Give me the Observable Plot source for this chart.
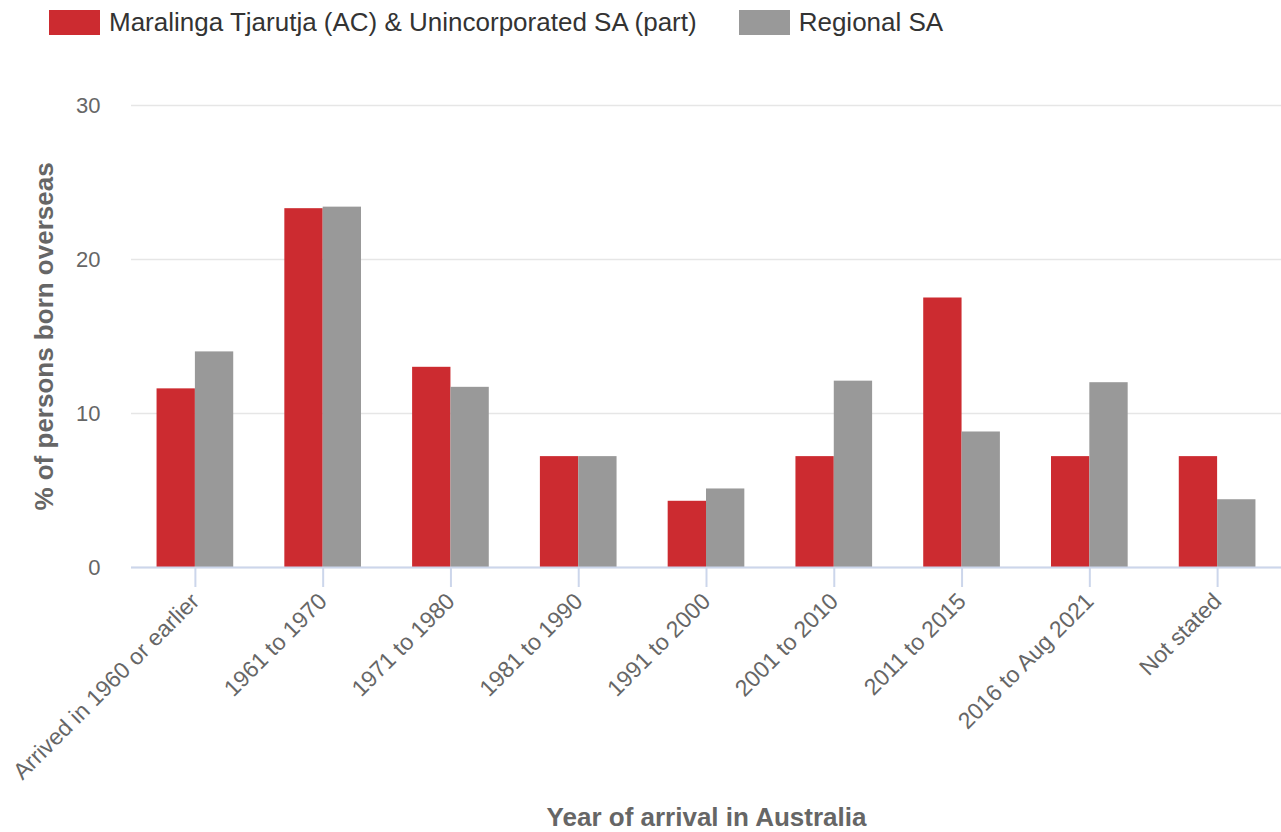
<!DOCTYPE html>
<html>
<head>
<meta charset="utf-8">
<script src="https://cdn.jsdelivr.net/npm/d3@7"></script>
<script src="https://cdn.jsdelivr.net/npm/@observablehq/plot@0.6"></script>
<style>
  html, body { margin: 0; padding: 0; background: #fff; }
  body { font-family: "Liberation Sans", Arial, sans-serif; width: 1281px; }
  #legend { height: 50px; position: relative; display: flex; align-items: flex-start; padding-left: 49px; padding-top: 10px; box-sizing: border-box; }
  .item { display: flex; align-items: center; margin-right: 42px; font-size: 26px; line-height: 25px; color: #333; }
  .sw { width: 51px; height: 25px; margin-right: 9px; }
  svg { display: block; }
</style>
</head>
<body>
<div id="legend"></div>
<div id="chart"></div>
<script>
const categories = ["Arrived in 1960 or earlier","1961 to 1970","1971 to 1980","1981 to 1990","1991 to 2000","2001 to 2010","2011 to 2015","2016 to Aug 2021","Not stated"];
const maralinga = [11.6, 23.3, 13.0, 7.2, 4.3, 7.2, 17.5, 7.2, 7.2];
const regional = [14.0, 23.4, 11.7, 7.2, 5.1, 12.1, 8.8, 12.0, 4.4];
const seriesNames = ["Maralinga Tjarutja (AC) & Unincorporated SA (part)", "Regional SA"];
const seriesColors = ["#cc2b30", "#999999"];
const yTicks = [0, 10, 20, 30];
const xTitle = "Year of arrival in Australia";
const yTitle = "% of persons born overseas";

const legend = document.getElementById("legend");
seriesNames.forEach((n, i) => {
  const it = document.createElement("div");
  it.className = "item";
  it.innerHTML = `<div class="sw" style="background:${seriesColors[i]}"></div><span>${n}</span>`;
  legend.appendChild(it);
});

const dataA = categories.map((c, i) => ({cat: c, value: maralinga[i]}));
const dataB = categories.map((c, i) => ({cat: c, value: regional[i]}));

const W = 1281, H = 782;
const mL = 131, mR = 0, mT = 55, mB = 265;
const half = (W - mL - mR) / categories.length * 0.6 / 2;

const plot = Plot.plot({
  width: W, height: H,
  marginLeft: mL, marginRight: mR, marginTop: mT, marginBottom: mB,
  style: {fontFamily: "'Liberation Sans', Arial, sans-serif", fontSize: "22px", color: "#666"},
  x: {domain: categories, paddingInner: 0.4, paddingOuter: 0.2, round: false, label: null},
  y: {domain: [0, 30], label: null},
  marks: [
    Plot.gridY(yTicks, {stroke: "#e6e6e6", strokeOpacity: 1, strokeWidth: 1.5}),
    Plot.barY(dataA, {x: "cat", y: "value", fill: seriesColors[0], insetRight: half}),
    Plot.barY(dataB, {x: "cat", y: "value", fill: seriesColors[1], insetLeft: half}),
    Plot.ruleY([0], {stroke: "#ccd6eb", strokeWidth: 2}),
    Plot.axisY({ticks: yTicks, tickSize: 0, tickPadding: 31, fill: "#666", fontSize: 22, label: null}),
    Plot.axisX({tickSize: 20, stroke: "#ccd6eb", strokeWidth: 2, strokeOpacity: 1, tickRotate: -45, tickPadding: 10, fill: "#666", fontSize: 23, label: null}),
    Plot.text([xTitle], {text: d => d, frameAnchor: "bottom", dy: 258, fontSize: 26, fontWeight: "bold", fill: "#666"}),
    Plot.text([yTitle], {text: d => d, frameAnchor: "left", textAnchor: "middle", dx: -87, rotate: -90, fontSize: 26, fontWeight: "bold", fill: "#666"})
  ]
});
document.getElementById("chart").appendChild(plot);
</script>
</body>
</html>
